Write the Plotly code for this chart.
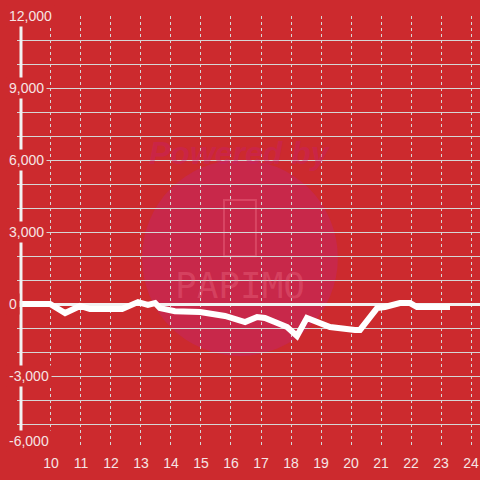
import plotly.graph_objects as go

# Data (hour of day, value)
hours = [8.87, 9.97, 10.47, 10.97, 11.3, 12.37, 12.9, 13.23, 13.47, 13.63, 14.13,
         14.97, 15.8, 16.47, 16.87, 17.13, 17.87, 18.2, 18.53, 18.7, 19.3, 20.13,
         20.3, 20.87, 21.13, 21.63, 21.97, 22.2, 23.3]
values = [0, 0, -375, -80, -210, -210, 80, -40, 40, -170, -300,
          -330, -500, -750, -540, -580, -960, -1330, -580, -670, -960, -1080,
          -1080, -170, -125, 40, 40, -125, -125]

x_ticks = [10, 11, 12, 13, 14, 15, 16, 17, 18, 19, 20, 21, 22, 23, 24]
x_tick_labels = [str(v) for v in x_ticks]
y_ticks = [12000, 9000, 6000, 3000, 0, -3000, -6000]
y_tick_labels = ["12,000", "9,000", "6,000", "3,000", "0", "-3,000", "-6,000"]

BG = "#cc2a2e"
GRID = "#d6d6d6"
TXT = "#f6e4e4"

fig = go.Figure()
fig.add_trace(go.Scatter(x=hours, y=values, mode="lines",
                         line=dict(color="white", width=6), hoverinfo="skip"))

# watermark
fig.add_shape(type="circle", xref="paper", yref="paper", x0=0.270, x1=0.693,
              y0=0.213, y1=0.667, fillcolor="#c8284a", line=dict(width=0), layer="below")
fig.add_shape(type="rect", xref="paper", yref="paper", x0=0.447, x1=0.516,
              y0=0.444, y1=0.574, fillcolor="rgba(0,0,0,0)",
              line=dict(color="rgba(255,140,160,0.3)", width=2), layer="below")
fig.add_annotation(text="<b><i>Powered by</i></b>", xref="paper", yref="paper",
                   x=0.482, y=0.729, showarrow=False,
                   font=dict(size=32, color="rgba(200,30,110,0.4)", family="Liberation Sans"))
fig.add_annotation(text="PAPIMO", xref="paper", yref="paper",
                   x=0.482, y=0.377, showarrow=False,
                   font=dict(size=36, color="rgba(255,140,160,0.25)", family="DejaVu Sans Mono"))

# left axis line
fig.add_shape(type="line", xref="x", yref="y", x0=9, x1=9, y0=-6000, y1=12000,
              line=dict(color="#f2f2f2", width=3), layer="above")

# y tick labels with background boxes
for v, lab in zip(y_ticks, y_tick_labels):
    fig.add_annotation(text=lab, xref="paper", yref="y", x=-0.024, y=v,
                       xanchor="left", yanchor="middle", showarrow=False,
                       yshift=(7 if v == y_ticks[-1] else 0),
                       bgcolor=BG, borderpad=2,
                       font=dict(size=14, color=TXT, family="Liberation Sans"))

fig.update_layout(
    width=480, height=480,
    margin=dict(l=17, r=0, t=16, b=32, autoexpand=False),
    paper_bgcolor=BG, plot_bgcolor=BG,
    showlegend=False,
    xaxis=dict(range=[8.867, 24.3], tickvals=x_ticks, ticktext=x_tick_labels,
               showgrid=True, gridcolor=GRID, gridwidth=1, griddash="3px,3px",
               zeroline=False, showline=False, ticks="", automargin=False,
               ticklabelstandoff=5,
               tickfont=dict(size=14, color=TXT, family="Liberation Sans")),
    yaxis=dict(range=[-6000, 12000], dtick=1000, tick0=0, automargin=False,
               showgrid=True, gridcolor=GRID, gridwidth=1,
               zeroline=True, zerolinecolor="#f2f2f2", zerolinewidth=3,
               showticklabels=False, showline=False, ticks=""),
)

fig.write_html("out.html", config={"displayModeBar": False},
               post_script="document.body.style.margin='0';document.body.style.overflow='hidden';")
